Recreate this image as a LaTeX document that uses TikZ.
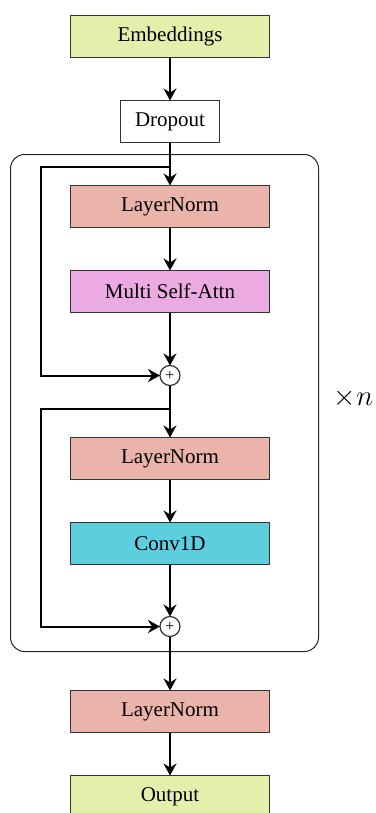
\documentclass[tikz,border=0pt]{standalone}
\usepackage{fontspec}
\setmainfont{Liberation Serif}
\usetikzlibrary{positioning,calc,arrows.meta}

\definecolor{embcolor}{RGB}{229,238,171}
\definecolor{normcolor}{RGB}{235,180,170}
\definecolor{attncolor}{RGB}{236,170,226}
\definecolor{convcolor}{RGB}{92,206,222}

\begin{document}
\begin{tikzpicture}
                [box/.style={rectangle,draw=black!80,line width=0.6pt,outer sep=0pt,minimum width=99.5pt,minimum height=21pt,inner sep=0pt,font=\fontsize{10.5pt}{12pt}\selectfont},
                plus/.style={circle,draw=black!80,line width=0.6pt,outer sep=0pt,minimum size=10pt,inner sep=0pt,font=\fontsize{8pt}{8pt}\selectfont},
                flow/.style={-{Stealth[length=6pt,width=6.5pt,inset=2pt]},line width=1pt},
                node distance=21.5pt]
                \useasboundingbox (0,0) rectangle (187.5pt,-406.5pt);
                \node[box,fill=embcolor] (emb) at (85pt,-18.25pt) {Embeddings};
                \node[box,fill=white,minimum width=49.5pt] (drop)[below=of emb]{Dropout};
                \node[box,fill=normcolor] (norma)[below=of drop]{LayerNorm};
                \node[box,fill=attncolor] (attn)[below=of norma]{Multi Self-Attn};
                \node[plus] (plusa)[below=26.5pt of attn]{+};
                \node[box,fill=normcolor] (normb)[below=26pt of plusa]{LayerNorm};
                \node[box,fill=convcolor] (conv)[below=of normb]{Conv1D};
                \node[plus] (plusb)[below=26pt of conv]{+};
                \node[box,fill=normcolor] (normc)[below=27pt of plusb]{LayerNorm};
                \node[box,fill=embcolor] (out)[below=of normc]{Output};
                % residual split points
                \coordinate (splita) at ($(drop.south)!0.57!(norma.north)$);
                \coordinate (splitb) at ($(plusa.south)!0.45!(normb.north)$);
                % repeated block
                \draw[black!85,line width=0.5pt,rounded corners=7pt]
                        ($(norma.north west)+(-30pt,15.5pt)$) rectangle ($(plusb -| normb.east)+(24.5pt,-12.5pt)$);
                \node[font=\fontsize{14pt}{16pt}\selectfont] (times) at ($(normb.east |- splitb)+(42pt,5.5pt)$) {$\times n$};
                \path[flow] (emb) edge (drop)
                            (drop) edge (norma)
                            (norma) edge (attn)
                            (attn) edge (plusa)
                            (plusa) edge (normb)
                            (normb) edge (conv)
                            (conv) edge (plusb)
                            (plusb) edge (normc)
                            (normc) edge (out);
                \draw[flow] (splita) -| ($(norma.west)+(-15pt,0)$) |- (plusa);
                \draw[flow] (splitb) -| ($(normb.west)+(-15pt,0)$) |- (plusb);
            \end{tikzpicture}
\end{document}
